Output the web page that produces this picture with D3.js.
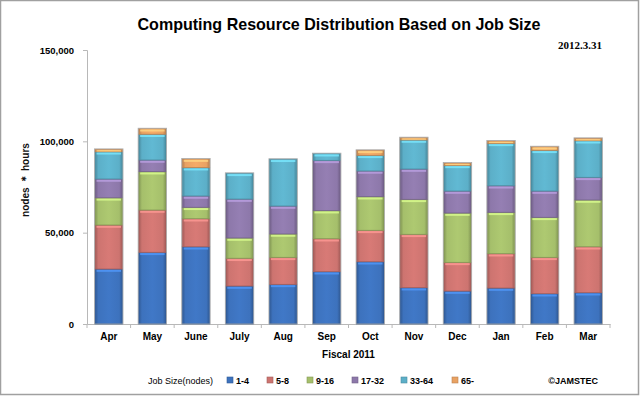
<!DOCTYPE html>
<html>
<head>
<meta charset="utf-8">
<script src="https://cdn.jsdelivr.net/npm/d3@7"></script>
<style>
  body { margin: 0; background: #fff; }
  svg { display: block; font-family: "Liberation Sans", Arial, sans-serif; }
</style>
</head>
<body>
<svg id="chart" width="640" height="396"></svg>
<script>
const months = ["Apr", "May", "June", "July", "Aug", "Sep", "Oct", "Nov", "Dec", "Jan", "Feb", "Mar"];
const jobSizes = ["1-4", "5-8", "9-16", "17-32", "33-64", "65-"];
const size1to4   = [30100, 39250, 42300, 20800, 21700, 28650, 34100, 19900, 18050, 19700, 16600, 17150];
const size5to8   = [24100, 23150, 15350, 15200, 14800, 18050, 17200, 29200, 15700, 18800, 19900, 25150];
const size9to16  = [14900, 21000, 6250, 11100, 12800, 15350, 18400, 19150, 27000, 22650, 21900, 25600];
const size17to32 = [10300, 6400, 6200, 21300, 15300, 27550, 14100, 16600, 12050, 14550, 14400, 12400];
const size33to64 = [14900, 14100, 15500, 14100, 25600, 3650, 8550, 15900, 14050, 23200, 22300, 20050];
const size65up   = [1300, 3000, 4700, 0, 0, 0, 2750, 1250, 1250, 1300, 1950, 1300];
const yTicks = [0, 50000, 100000, 150000];

const series = [size1to4, size5to8, size9to16, size17to32, size33to64, size65up];
const colors = ["#3d72bd", "#cd7470", "#a5bf6b", "#8d78aa", "#5cafc8", "#e9a263"];

const rows = months.map((m, i) => {
    const r = { month: m };
    jobSizes.forEach((s, j) => r[s] = series[j][i]);
    return r;
});

const svg = d3.select("#chart");
const margin = { top: 50, right: 30, bottom: 72, left: 87 };
const width = 640 - margin.left - margin.right;
const height = 396 - margin.top - margin.bottom;

// frame
svg.append("rect")
    .attr("x", 0.5).attr("y", 0.5)
    .attr("width", 638).attr("height", 394)
    .attr("fill", "#fff")
    .attr("stroke", "#a0a0a0")
    .attr("stroke-width", 1.5);

// gradients for the glossy bars
const defs = svg.append("defs");
colors.forEach((c, j) => {
    const g = defs.append("linearGradient")
        .attr("id", "grad" + j)
        .attr("x1", "0%").attr("x2", "100%").attr("y1", "0%").attr("y2", "0%");
    g.append("stop").attr("offset", "0%").attr("stop-color", d3.color(c).darker(0.7));
    g.append("stop").attr("offset", "12%").attr("stop-color", c);
    g.append("stop").attr("offset", "50%").attr("stop-color", d3.color(c).brighter(0.15));
    g.append("stop").attr("offset", "88%").attr("stop-color", c);
    g.append("stop").attr("offset", "100%").attr("stop-color", d3.color(c).darker(0.7));
});

const g = svg.append("g")
    .attr("transform", `translate(${margin.left},${margin.top})`);

const x = d3.scaleBand()
    .domain(months)
    .range([0, width])
    .paddingInner(0.37)
    .paddingOuter(0.185);

const y = d3.scaleLinear()
    .domain([0, 150000])
    .range([height, 0]);

// y axis
const yAxis = g.append("g")
    .call(d3.axisLeft(y).tickValues(yTicks).tickFormat(d3.format(",")).tickSize(4).tickPadding(9));
yAxis.select(".domain").attr("stroke", "#b8b8b8");
yAxis.selectAll(".tick line").attr("stroke", "#b8b8b8");
yAxis.selectAll("text")
    .style("font-size", "9.5px")
    .style("font-weight", "bold")
    .attr("fill", "#000");

// x axis
const xAxis = g.append("g")
    .attr("transform", `translate(0,${height})`)
    .call(d3.axisBottom(x).tickSize(0).tickPadding(9));
xAxis.select(".domain").attr("stroke", "#b8b8b8");
xAxis.selectAll("text")
    .style("font-size", "10px")
    .style("font-weight", "bold")
    .attr("fill", "#000");

// category separator ticks
const step = x.step();
g.append("g").selectAll("line")
    .data(d3.range(months.length + 1))
    .enter().append("line")
    .attr("x1", i => i * step)
    .attr("x2", i => i * step)
    .attr("y1", height)
    .attr("y2", height + 4)
    .attr("stroke", "#b8b8b8");

// stacked bars
const stacked = d3.stack().keys(jobSizes)(rows);

const layers = g.selectAll(".layer")
    .data(stacked)
    .enter().append("g")
    .attr("class", "layer");

layers.each(function (layer, j) {
    const sel = d3.select(this).selectAll("g")
        .data(layer.filter(d => d[1] - d[0] > 0))
        .enter().append("g");
    sel.append("rect")
        .attr("x", d => x(d.data.month))
        .attr("y", d => y(d[1]))
        .attr("width", x.bandwidth())
        .attr("height", d => y(d[0]) - y(d[1]))
        .attr("fill", "url(#grad" + j + ")")
        .attr("stroke", d3.color(colors[j]).darker(0.6))
        .attr("stroke-width", 0.8);
    // top highlight
    sel.append("rect")
        .attr("x", d => x(d.data.month) + 1.5)
        .attr("y", d => y(d[1]) + 0.8)
        .attr("width", x.bandwidth() - 3)
        .attr("height", d => Math.min(2, y(d[0]) - y(d[1]) - 1))
        .attr("fill", d3.color(colors[j]).brighter(0.8))
        .attr("opacity", 0.8);
});

// outline of each bar
g.selectAll(".outline")
    .data(rows)
    .enter().append("rect")
    .attr("class", "outline")
    .attr("x", d => x(d.month) - 0.5)
    .attr("y", d => y(d3.sum(jobSizes, s => d[s])) - 0.5)
    .attr("width", x.bandwidth() + 1)
    .attr("height", d => height - y(d3.sum(jobSizes, s => d[s])) + 0.5)
    .attr("fill", "none")
    .attr("stroke", "#aaa")
    .attr("stroke-width", 0.8);

// title
svg.append("text")
    .attr("x", 339)
    .attr("y", 30)
    .attr("text-anchor", "middle")
    .attr("textLength", 403)
    .attr("lengthAdjust", "spacingAndGlyphs")
    .style("font-size", "17px")
    .style("font-weight", "bold")
    .text("Computing Resource Distribution Based on Job Size");

svg.append("text")
    .attr("x", 602)
    .attr("y", 49)
    .attr("text-anchor", "end")
    .style("font-family", "'Liberation Serif', 'Times New Roman', serif")
    .style("font-size", "11px")
    .style("font-weight", "bold")
    .text("2012.3.31");

// axis titles
svg.append("text")
    .attr("transform", "rotate(-90)")
    .attr("x", -180)
    .attr("y", 29)
    .attr("text-anchor", "middle")
    .attr("textLength", 74)
    .attr("lengthAdjust", "spacingAndGlyphs")
    .style("font-size", "10.5px")
    .style("font-weight", "bold")
    .attr("fill", "#111")
    .text("nodes ＊ hours");

svg.append("text")
    .attr("x", margin.left + width / 2)
    .attr("y", 358)
    .attr("text-anchor", "middle")
    .style("font-size", "10px")
    .style("font-weight", "bold")
    .text("Fiscal 2011");

// legend
const legendY = 384;
svg.append("text")
    .attr("x", 148)
    .attr("y", legendY)
    .style("font-size", "9px")
    .text("Job Size(nodes)");

const legendX = [227, 267, 307, 352, 401, 452];
const legend = svg.append("g").selectAll("g")
    .data(jobSizes)
    .enter().append("g")
    .attr("transform", (d, i) => `translate(${legendX[i]},${legendY})`);
legend.append("rect")
    .attr("x", 0).attr("y", -7)
    .attr("width", 6).attr("height", 6)
    .attr("fill", (d, i) => colors[i])
    .attr("stroke", (d, i) => d3.color(colors[i]).darker(0.6))
    .attr("stroke-width", 0.6);
legend.append("text")
    .attr("x", 9)
    .style("font-size", "9px")
    .style("font-weight", "bold")
    .text(d => d);

svg.append("text")
    .attr("x", 598)
    .attr("y", legendY)
    .attr("text-anchor", "end")
    .style("font-size", "9px")
    .style("font-weight", "bold")
    .text("©JAMSTEC");
</script>
</body>
</html>
